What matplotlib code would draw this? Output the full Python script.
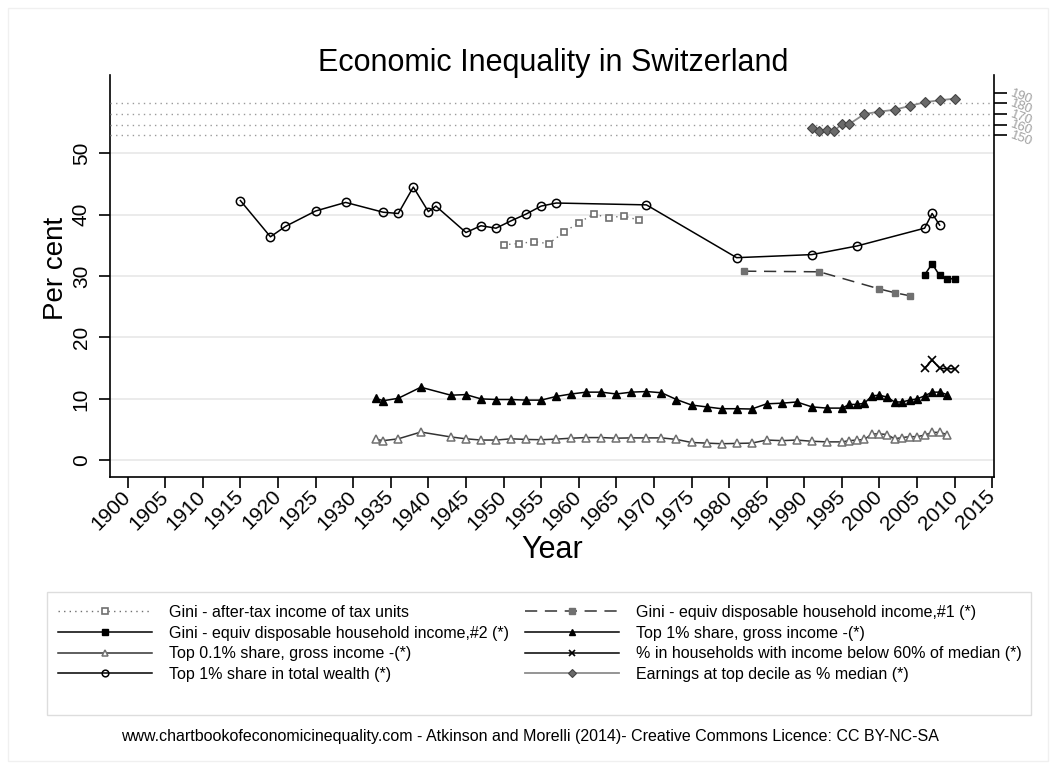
import matplotlib
matplotlib.use('Agg')
import matplotlib.pyplot as plt
from matplotlib.patches import Rectangle

plt.rcParams['font.family'] = ['Liberation Sans', 'DejaVu Sans']

# Data
tax_years = [1950, 1952, 1954, 1956, 1958, 1960, 1962, 1964, 1966, 1968]
gini_tax = [35.1, 35.3, 35.6, 35.3, 37.1, 38.7, 40.1, 39.5, 39.8, 39.1]

g1_years = [1982, 1992, 2000, 2002, 2004]
gini_hh1 = [30.8, 30.7, 27.9, 27.3, 26.8]

g2_years = [2006, 2007, 2008, 2009, 2010]
gini_hh2 = [30.2, 32.0, 30.1, 29.5, 29.6]

pov_years = [2006, 2007, 2008, 2009, 2010]
poverty = [15.0, 16.3, 15.0, 14.9, 14.9]

top_years = [1933, 1934, 1936, 1939, 1943, 1945, 1947, 1949, 1951, 1953, 1955, 1957,
             1959, 1961, 1963, 1965, 1967, 1969, 1971, 1973, 1975, 1977, 1979, 1981,
             1983, 1985, 1987, 1989, 1991, 1993, 1995, 1996, 1997, 1998, 1999, 2000,
             2001, 2002, 2003, 2004, 2005, 2006, 2007, 2008, 2009]
top1 = [10.1, 9.7, 10.1, 11.9, 10.6, 10.7, 10.0, 9.9, 9.9, 9.8, 9.8, 10.4,
        10.8, 11.1, 11.1, 10.8, 11.1, 11.2, 11.0, 9.9, 9.0, 8.7, 8.4, 8.4,
        8.35, 9.2, 9.3, 9.5, 8.7, 8.5, 8.5, 9.1, 9.1, 9.3, 10.5, 10.6,
        10.3, 9.5, 9.5, 9.8, 10.0, 10.5, 11.1, 11.1, 10.7]
top01 = [3.4, 3.2, 3.5, 4.6, 3.8, 3.5, 3.3, 3.3, 3.5, 3.4, 3.35, 3.45,
         3.6, 3.7, 3.7, 3.6, 3.65, 3.65, 3.65, 3.4, 2.9, 2.8, 2.7, 2.75,
         2.8, 3.3, 3.2, 3.3, 3.1, 3.0, 3.0, 3.2, 3.3, 3.4, 4.3, 4.3,
         4.2, 3.5, 3.7, 3.85, 3.85, 4.1, 4.55, 4.55, 4.2]

wealth_years = [1915, 1919, 1921, 1925, 1929, 1934, 1936, 1938, 1940, 1941, 1945, 1947,
                1949, 1951, 1953, 1955, 1957, 1969, 1981, 1991, 1997, 2006, 2007, 2008]
wealth = [42.3, 36.4, 38.1, 40.6, 42.0, 40.4, 40.2, 44.5, 40.5, 41.4, 37.1, 38.2,
          37.8, 39.0, 40.1, 41.4, 41.9, 41.6, 33.0, 33.5, 34.9, 37.8, 40.2, 38.3]

earn_years = [1991, 1992, 1993, 1994, 1995, 1996, 1998, 2000, 2002, 2004, 2006, 2008, 2010]
earnings = [156.6, 154.3, 154.7, 154.3, 160.6, 160.6, 170.0, 172.2, 174.0, 177.5, 181.0, 182.9, 184.4]

x_ticks = list(range(1900, 2016, 5))
y_ticks = [0, 10, 20, 30, 40, 50]
y2_ticks = [150, 160, 170, 180, 190]

W, H = 1056, 769
fig = plt.figure(figsize=(W / 100, H / 100), dpi=100)
ax = fig.add_axes([110.3 / W, 1 - 477 / H, 884 / W, 402 / H])
ax2 = ax.twinx()

ax.set_xlim(1897.7, 2015.27)
ax.set_ylim(-2.72, 62.75)
ax2.set_ylim(-170.8, 206.6)

# grid
for v in y_ticks:
    ax.axhline(v, color='#e8e8e8', lw=1.2, zorder=0)
for v in y2_ticks[:-1]:
    ax2.axhline(v, color='#9a9a9a', lw=1.0, ls=(0, (1, 3)), zorder=0)

gray = '#707070'

lines = {}
lines['tax'], = ax.plot(tax_years, gini_tax, ls=(0, (1, 3)), color=gray, lw=1.0,
                        marker='s', ms=5, mfc='white', mec=gray, mew=1.2,
                        label='Gini - after-tax income of tax units')
lines['g1'], = ax.plot(g1_years, gini_hh1, ls=(0, (8, 5)), color='#333333', lw=1.1,
                       marker='s', ms=4.8, mfc=gray, mec=gray,
                       label='Gini - equiv disposable household income,#1 (*)')
lines['g2'], = ax.plot(g2_years, gini_hh2, color='black', lw=1.1,
                       marker='s', ms=5, mfc='black', mec='black',
                       label='Gini - equiv disposable household income,#2 (*)')
lines['top1'], = ax.plot(top_years, top1, color='black', lw=1.1,
                         marker='^', ms=5.5, mfc='black', mec='black',
                         label='Top 1% share, gross income -(*)')
lines['top01'], = ax.plot(top_years, top01, color='#333333', lw=1.1,
                          marker='^', ms=5.2, mfc='white', mec=gray, mew=1.1,
                          label='Top 0.1% share, gross income -(*)')
lines['pov'], = ax.plot(pov_years, poverty, color='black', lw=1.1,
                        marker='x', ms=6, mec='black', mew=1.2,
                        label='% in households with income below 60% of median (*)')
lines['wealth'], = ax.plot(wealth_years, wealth, color='black', lw=1.1,
                           marker='o', ms=6, mfc='none', mec='black', mew=1.1,
                           label='Top 1% share in total wealth (*)')
lines['earn'], = ax2.plot(earn_years, earnings, color='#8c8c8c', lw=1.3,
                          marker='D', ms=5.2, mfc='#6a6a6a', mec='#444444', mew=0.8,
                          label='Earnings at top decile as % median (*)')

# axes styling
ax.set_xticks(x_ticks)
ax.set_xticklabels([str(t) for t in x_ticks], rotation=45, ha='right', va='center',
                   rotation_mode='anchor', fontsize=15)
ax.set_yticks(y_ticks)
ax.set_yticklabels([str(t) for t in y_ticks], rotation=90, va='center', fontsize=15)
ax.tick_params(axis='x', length=8, width=1.2, pad=4)
ax.tick_params(axis='y', length=8, width=1.2, pad=6)
ax.spines['top'].set_visible(False)
ax.spines['right'].set_visible(False)
for s in ['left', 'bottom']:
    ax.spines[s].set_linewidth(1.2)

ax2.set_yticks(y2_ticks)
ax2.set_yticklabels([str(t) for t in y2_ticks], rotation=-20, fontsize=9.5,
                    color='#a0a0a0', va='center', ha='left', rotation_mode='anchor')
ax2.tick_params(axis='y', length=9, width=1.2, pad=3)
ax2.spines['top'].set_visible(False)
ax2.spines['left'].set_visible(False)
ax2.spines['bottom'].set_visible(False)
ax2.spines['right'].set_linewidth(1.2)

fig.text(553 / W, 1 - 71 / H, 'Economic Inequality in Switzerland', fontsize=22,
         ha='center', va='baseline')
fig.text(56 / W, 1 - 268 / H, 'Per cent', fontsize=20, rotation=90,
         ha='center', va='center')
fig.text(552 / W, 1 - 550 / H, 'Year', fontsize=22, ha='center', va='center')
fig.text(530 / W, 1 - 737 / H,
         'www.chartbookofeconomicinequality.com - Atkinson and Morelli (2014)- '
         'Creative Commons Licence: CC BY-NC-SA',
         fontsize=11.5, ha='center', va='center')

order = ['tax', 'g2', 'top01', 'wealth', 'g1', 'top1', 'pov', 'earn']
handles = [lines[k] for k in order]
leg = fig.legend(handles, [h.get_label() for h in handles], ncol=2,
                 loc='upper left', bbox_to_anchor=(45 / W, 1 - 592 / H),
                 fontsize=11.5, handlelength=5.9, handletextpad=1.05,
                 labelspacing=0.36, columnspacing=1.0, markerscale=0.8,
                 borderpad=0.8, borderaxespad=0, frameon=False)

# legend box (Stata leaves extra room below the keys)
fig.patches.append(Rectangle((47 / W, 1 - 715 / H), (1031 - 47) / W, (715 - 592) / H,
                             fill=False, edgecolor='#dddddd', lw=1.0,
                             transform=fig.transFigure))
fig.patches.append(Rectangle((8 / W, 8 / H), 1 - 16 / W, 1 - 16 / H, fill=False,
                             edgecolor='#f0f0f0', lw=1.0, transform=fig.transFigure))

fig.savefig('out.png', dpi=100)
